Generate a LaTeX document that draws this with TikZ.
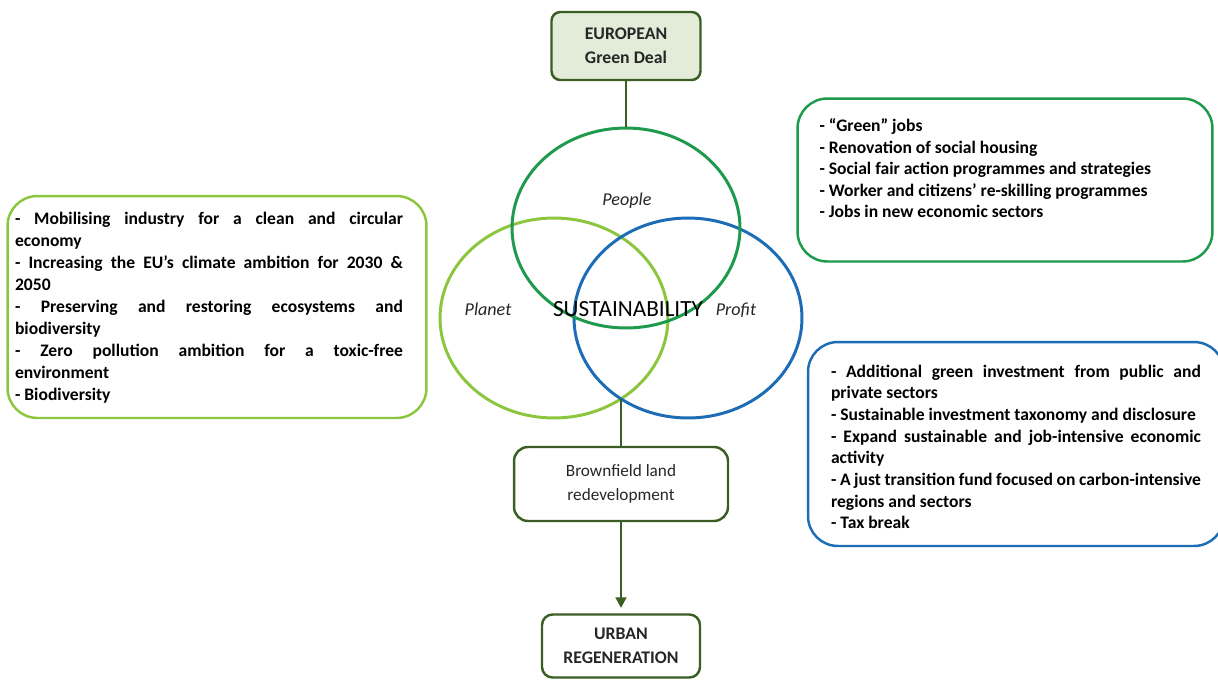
\documentclass[tikz,border=0pt]{standalone}
\usepackage{fontspec}
\setmainfont{Carlito}
\usepackage{tikz}
\usetikzlibrary{shapes.geometric}
\usetikzlibrary{arrows.meta}
\definecolor{dealgreen}{HTML}{3B5E24}
\definecolor{dealfill}{HTML}{E2ECD8}
\definecolor{peoplegreen}{HTML}{1E9A4C}
\definecolor{planetgreen}{HTML}{8CC63F}
\definecolor{profitblue}{HTML}{1C6CB6}
\definecolor{textgrey}{HTML}{262626}
\newcommand{\listtext}{\bfseries\fontsize{10}{12.3}\selectfont\hyphenpenalty10000\exhyphenpenalty10000}

\begin{document}
\begin{tikzpicture}[x=0.02cm, y=-0.02cm,
    flowbox/.style={draw=dealgreen, line width=1.4pt, rounded corners=6pt, align=center, text=textgrey, font=\fontsize{9.8}{13.4}\selectfont},
    ring/.style={ellipse, draw, line width=1.7pt, inner sep=0pt, minimum width=4.56cm, minimum height=4cm},
    tag/.style={font=\itshape\fontsize{10.3}{12}\selectfont, text=textgrey},
    listbox/.style={draw, line width=1.4pt, rounded corners=17pt, inner sep=0pt},
    link/.style={draw=dealgreen, line width=1.6pt}]
\useasboundingbox (0,0) rectangle (1218,680);

\node[flowbox, fill=dealfill, minimum width=2.98cm, minimum height=1.36cm, rounded corners=5pt, font=\bfseries\fontsize{10.1}{13.6}\selectfont] (deal) at (626,46) {EUROPEAN\\Green Deal};

\node[ring, draw=planetgreen] (planet) at (554,318) {};
\node[ring, draw=profitblue] (profit) at (688,318) {};
\node[ring, draw=peoplegreen] (people) at (626,228) {};
\coordinate (meet) at (621,399);

\node[tag] (peoplelbl) at (627,201) {People};
\node[tag] (planetlbl) at (488,309) {Planet};
\node[tag] (profitlbl) at (736,310) {Profit};
\node[font=\fontsize{13.2}{15}\selectfont] (sust) at (628,309) {SUSTAINABILITY};

\node[flowbox, minimum width=4.28cm, minimum height=1.48cm, rounded corners=8pt] (brown) at (621,484) {Brownfield land\\redevelopment};
\node[flowbox, minimum width=3.16cm, minimum height=1.26cm, font=\bfseries\fontsize{10.1}{13.6}\selectfont] (urban) at (621,646) {URBAN\\REGENERATION};

\draw[link] (deal.south) -- (people.north);
\draw[link] (meet) -- (brown.north);
\draw[link, -{Triangle[width=6pt,length=6pt]}, shorten >=3pt] (brown.south) -- (urban.north);

\node[listbox, draw=planetgreen, minimum width=8.38cm, minimum height=4.44cm] (planetbox) at (217,307)
  {\hspace*{-0.32cm}\parbox[c][3.8cm][t]{7.76cm}{\listtext\fontsize{10}{12.5}\selectfont
  - Mobilising industry for a clean and circular\linebreak economy\par
  - Increasing the EU’s climate ambition for 2030 \&\linebreak 2050\par
  - Preserving and restoring ecosystems and\linebreak biodiversity\par
  - Zero pollution ambition for a toxic-free\linebreak environment\par
  - Biodiversity}};

\node[listbox, draw=peoplegreen, minimum width=8.3cm, minimum height=3.26cm] (peoplebox) at (1005,180)
  {\parbox[c][2.46cm][t]{7.42cm}{\listtext\raggedright
  - “Green” jobs\par
  - Renovation of social housing\par
  - Social fair action programmes and strategies\par
  - Worker and citizens’ re-skilling programmes\par
  - Jobs in new economic sectors}};

\node[listbox, draw=profitblue, minimum width=8.32cm, minimum height=4.08cm] (profitbox) at (1016,444)
  {\parbox[c][3.16cm][t]{7.4cm}{\listtext
  - Additional green investment from public and\linebreak private sectors\par
  - Sustainable investment taxonomy and disclosure\par
  - Expand sustainable and job-intensive economic\linebreak activity\par
  - A just transition fund focused on carbon-intensive\linebreak regions and sectors\par
  - Tax break}};
\end{tikzpicture}
\end{document}
